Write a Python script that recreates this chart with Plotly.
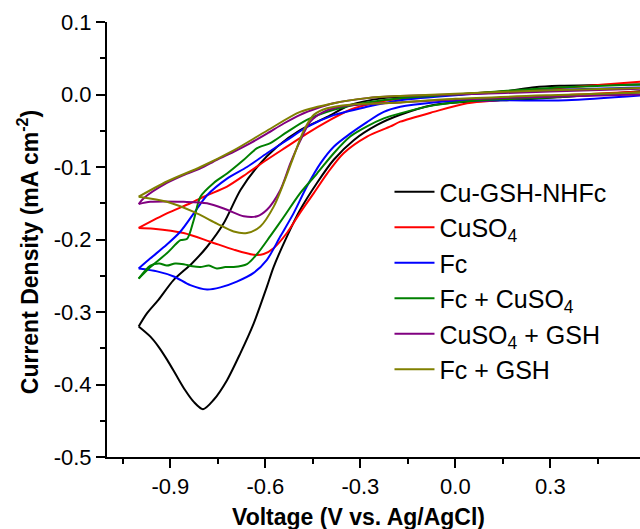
import plotly.graph_objects as go

# ---- data (V vs Ag/AgCl, mA cm^-2) ----
series_names = ["Cu-GSH-NHFc", "CuSO<sub>4</sub>", "Fc", "Fc + CuSO<sub>4</sub>",
                "CuSO<sub>4</sub> + GSH", "Fc + GSH"]
series_colors = ["#000000", "#FF0000", "#0000FF", "#008000", "#800080", "#808000"]

black_up_x = [0.60, 0.45, 0.33, 0.25, 0.15, 0.0, -0.1, -0.226, -0.332, -0.405, -0.490, -0.563, -0.626, -0.679, -0.732, -0.784, -0.832, -0.890, -0.937, -0.974, -1.0]
black_up_y = [0.014, 0.013, 0.012, 0.010, 0.004, 0.000, -0.002, -0.005, -0.0145, -0.031, -0.049, -0.072, -0.100, -0.132, -0.178, -0.210, -0.233, -0.256, -0.283, -0.302, -0.320]
black_lo_x = [-1.0, -0.963, -0.937, -0.910, -0.879, -0.853, -0.826, -0.797, -0.763, -0.721, -0.679, -0.637, -0.595, -0.574, -0.532, -0.490, -0.437, -0.384, -0.321, -0.247, -0.174, -0.069, 0.037, 0.142, 0.25, 0.35, 0.45, 0.60]
black_lo_y = [-0.320, -0.334, -0.348, -0.366, -0.389, -0.408, -0.424, -0.434, -0.421, -0.394, -0.357, -0.316, -0.265, -0.238, -0.196, -0.159, -0.122, -0.090, -0.063, -0.042, -0.028, -0.0145, -0.010, -0.008, -0.006, -0.003, 0.000, 0.005]

red_up_x = [0.60, 0.45, 0.30, 0.15, 0.0, -0.174, -0.226, -0.332, -0.405, -0.469, -0.532, -0.595, -0.658, -0.721, -0.784, -0.837, -0.911, -1.0]
red_up_y = [0.018, 0.013, 0.008, 0.004, 0.000, -0.006, -0.009, -0.021, -0.0375, -0.054, -0.072, -0.090, -0.109, -0.127, -0.139, -0.150, -0.164, -0.184]
red_lo_x = [-1.0, -0.953, -0.858, -0.774, -0.700, -0.637, -0.605, -0.574, -0.532, -0.490, -0.447, -0.405, -0.353, -0.279, -0.205, -0.174, -0.069, 0.037, 0.142, 0.35, 0.60]
red_lo_y = [-0.184, -0.185, -0.191, -0.203, -0.214, -0.221, -0.220, -0.212, -0.191, -0.163, -0.136, -0.109, -0.081, -0.058, -0.044, -0.0375, -0.024, -0.012, -0.0076, -0.001, 0.004]

blue_up_x = [0.60, 0.35, 0.15, 0.0, -0.174, -0.279, -0.384, -0.469, -0.532, -0.595, -0.658, -0.721, -0.784, -0.826, -0.868, -0.911, -0.963, -1.0]
blue_up_y = [0.010, 0.007, 0.003, -0.001, -0.008, -0.017, -0.0285, -0.045, -0.063, -0.081, -0.100, -0.116, -0.139, -0.164, -0.189, -0.207, -0.226, -0.240]
blue_lo_x = [-1.0, -0.942, -0.889, -0.837, -0.784, -0.742, -0.690, -0.637, -0.595, -0.553, -0.511, -0.469, -0.426, -0.384, -0.332, -0.279, -0.226, -0.174, -0.069, 0.0, 0.15, 0.35, 0.60]
blue_lo_y = [-0.240, -0.244, -0.251, -0.263, -0.269, -0.266, -0.258, -0.246, -0.228, -0.196, -0.164, -0.127, -0.095, -0.072, -0.054, -0.038, -0.024, -0.017, -0.011, -0.009, -0.008, -0.008, -0.001]

green_up_x = [0.60, 0.30, 0.0, -0.174, -0.279, -0.384, -0.469, -0.532, -0.584, -0.626, -0.668, -0.721, -0.763, -0.805, -0.826, -0.847, -0.868, -0.911, -0.963, -1.0]
green_up_y = [0.014, 0.009, 0.000, -0.005, -0.011, -0.021, -0.035, -0.052, -0.067, -0.074, -0.090, -0.109, -0.122, -0.141, -0.173, -0.199, -0.201, -0.219, -0.238, -0.254]
green_lo_x = [-1.0, -0.963, -0.935, -0.911, -0.885, -0.858, -0.830, -0.805, -0.778, -0.753, -0.726, -0.700, -0.658, -0.626, -0.584, -0.542, -0.490, -0.437, -0.384, -0.332, -0.279, -0.226, -0.174, -0.069, 0.05, 0.30, 0.60]
green_lo_y = [-0.254, -0.236, -0.233, -0.236, -0.233, -0.234, -0.237, -0.238, -0.236, -0.240, -0.238, -0.238, -0.234, -0.220, -0.195, -0.169, -0.136, -0.109, -0.081, -0.058, -0.044, -0.033, -0.026, -0.015, -0.009, -0.004, 0.003]

purple_up_x = [0.60, 0.30, 0.0, -0.174, -0.279, -0.384, -0.437, -0.490, -0.542, -0.595, -0.647, -0.700, -0.753, -0.805, -0.858, -0.911, -0.984, -1.0]
purple_up_y = [0.008, 0.004, 0.000, -0.002, -0.005, -0.012, -0.019, -0.028, -0.040, -0.054, -0.067, -0.079, -0.090, -0.102, -0.111, -0.122, -0.143, -0.151]
purple_lo_x = [-1.0, -0.963, -0.858, -0.784, -0.721, -0.668, -0.626, -0.595, -0.553, -0.521, -0.490, -0.458, -0.416, -0.353, -0.279, -0.174, 0.0, 0.30, 0.60]
purple_lo_y = [-0.151, -0.148, -0.148, -0.150, -0.159, -0.168, -0.168, -0.159, -0.132, -0.095, -0.064, -0.0375, -0.024, -0.016, -0.0133, -0.011, -0.007, -0.003, 0.000]

olive_up_x = [0.60, 0.30, 0.0, -0.174, -0.279, -0.384, -0.490, -0.595, -0.700, -0.805, -0.911, -1.0]
olive_up_y = [0.009, 0.006, 0.001, -0.002, -0.005, -0.012, -0.024, -0.050, -0.077, -0.100, -0.120, -0.141]
olive_lo_x = [-1.0, -0.911, -0.826, -0.753, -0.700, -0.658, -0.616, -0.574, -0.542, -0.511, -0.479, -0.447, -0.405, -0.332, -0.226, -0.174, 0.0, 0.30, 0.60]
olive_lo_y = [-0.141, -0.148, -0.162, -0.178, -0.189, -0.191, -0.182, -0.155, -0.122, -0.086, -0.050, -0.028, -0.019, -0.014, -0.012, -0.011, -0.006, -0.001, 0.003]

x_tickvals = [-0.9, -0.6, -0.3, 0.0, 0.3]
x_ticktext = ["-0.9", "-0.6", "-0.3", "0.0", "0.3"]
y_tickvals = [0.1, 0.0, -0.1, -0.2, -0.3, -0.4, -0.5]
y_ticktext = ["0.1", "0.0", "-0.1", "-0.2", "-0.3", "-0.4", "-0.5"]

x_title = "Voltage (V vs. Ag/AgCl)"
y_title = "Current Density (mA cm<sup>-2</sup>)"

branches = [
    (black_up_x, black_up_y, black_lo_x, black_lo_y),
    (red_up_x, red_up_y, red_lo_x, red_lo_y),
    (blue_up_x, blue_up_y, blue_lo_x, blue_lo_y),
    (green_up_x, green_up_y, green_lo_x, green_lo_y),
    (purple_up_x, purple_up_y, purple_lo_x, purple_lo_y),
    (olive_up_x, olive_up_y, olive_lo_x, olive_lo_y),
]

FONT = "Liberation Sans, Arial, sans-serif"

fig = go.Figure()
for name, color, (ux, uy, lx, ly) in zip(series_names, series_colors, branches):
    fig.add_trace(go.Scatter(x=ux, y=uy, mode="lines", name=name, legendgroup=name,
                             line=dict(color=color, width=2, shape="spline", smoothing=0.8),
                             showlegend=True))
    fig.add_trace(go.Scatter(x=lx, y=ly, mode="lines", name=name, legendgroup=name,
                             line=dict(color=color, width=2, shape="spline", smoothing=0.8),
                             showlegend=False))

fig.update_layout(
    width=640, height=529,
    margin=dict(l=107, r=0, t=22, b=72),
    paper_bgcolor="white", plot_bgcolor="white",
    font=dict(family=FONT, size=22, color="black"),
    showlegend=True,
    legend=dict(x=0.53, y=0.662, xanchor="left", yanchor="top",
                bgcolor="rgba(0,0,0,0)", font=dict(size=25, family=FONT),
                tracegroupgap=0, itemwidth=40),
    xaxis=dict(range=[-1.1, 0.583], showline=True, linecolor="black", linewidth=2,
               showgrid=False, zeroline=False, ticks="outside", ticklen=9, tickwidth=2,
               tickcolor="black", tickvals=x_tickvals, ticktext=x_ticktext,
               tickfont=dict(size=22, family=FONT),
               minor=dict(ticks="outside", ticklen=5, tickwidth=2, tickcolor="black",
                          tick0=-1.05, dtick=0.3, showgrid=False)),
    yaxis=dict(range=[-0.5, 0.1], showline=True, linecolor="black", linewidth=2,
               showgrid=False, zeroline=False, ticks="outside", ticklen=9, tickwidth=2,
               tickcolor="black", tickvals=y_tickvals, ticktext=y_ticktext,
               tickfont=dict(size=22, family=FONT),
               minor=dict(ticks="outside", ticklen=5, tickwidth=2, tickcolor="black",
                          tick0=0.05, dtick=0.1, showgrid=False)),
    annotations=[
        dict(text="<b>" + x_title + "</b>", xref="paper", yref="paper",
             x=0.471, y=-0.138, xanchor="center", yanchor="middle", showarrow=False,
             font=dict(size=23, family=FONT)),
        dict(text="<b>" + y_title + "</b>", xref="paper", yref="paper",
             x=-0.148, y=0.471, xanchor="center", yanchor="middle", showarrow=False,
             textangle=-90, font=dict(size=23, family=FONT)),
    ],
)

fig.write_html("out.html")
